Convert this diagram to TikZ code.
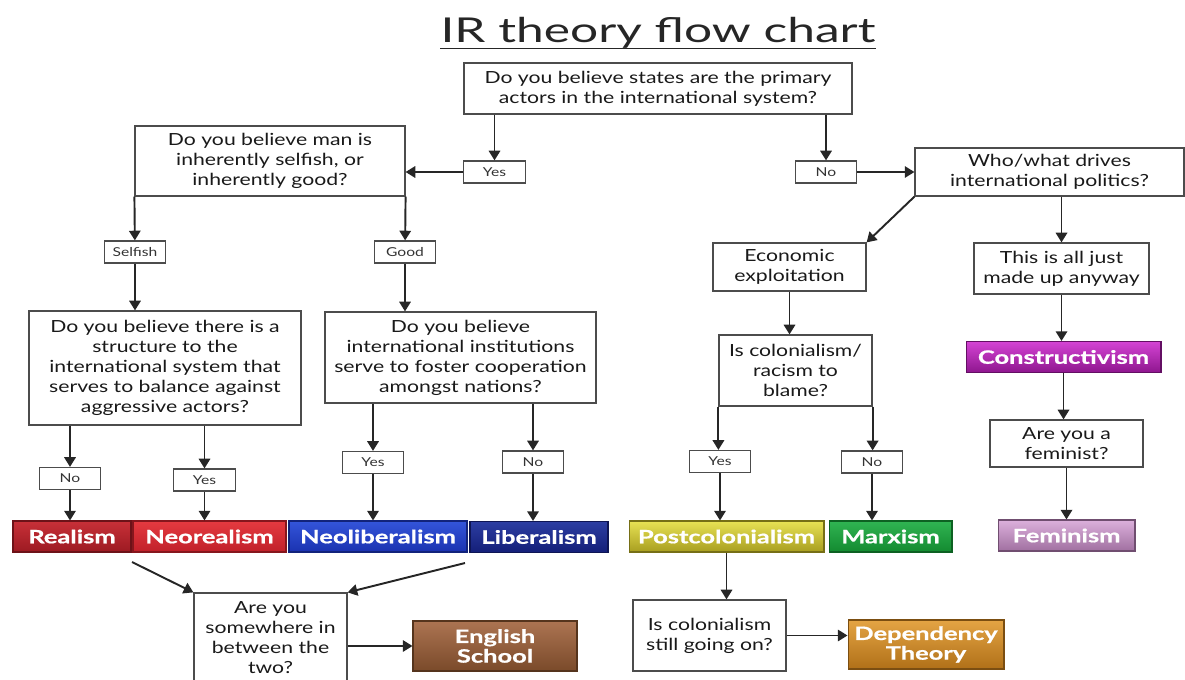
\documentclass[tikz,border=0pt]{standalone}
\usepackage{fontspec}
\setmainfont{Lato}[FakeStretch=1.27]
\newfontfamily\titlefont{Lato}[FakeStretch=1.45]
\newfontfamily\heavyfont{Lato}[FakeStretch=1.38, FakeBold=0.8]
\usetikzlibrary{arrows.meta}

\definecolor{real1}{HTML}{C83038}
\definecolor{real2}{HTML}{9C1A22}
\definecolor{neor1}{HTML}{E53A40}
\definecolor{neor2}{HTML}{C0202A}
\definecolor{neol1}{HTML}{3455DA}
\definecolor{neol2}{HTML}{1A32B0}
\definecolor{libe1}{HTML}{2C3DA2}
\definecolor{libe2}{HTML}{141E78}
\definecolor{post1}{HTML}{E8E254}
\definecolor{post2}{HTML}{A89E20}
\definecolor{marx1}{HTML}{30B452}
\definecolor{marx2}{HTML}{138A30}
\definecolor{cons1}{HTML}{D444D4}
\definecolor{cons2}{HTML}{8E168E}
\definecolor{femi1}{HTML}{DCB0DC}
\definecolor{femi2}{HTML}{A070A0}
\definecolor{engl1}{HTML}{AC7452}
\definecolor{engl2}{HTML}{7A4A2A}
\definecolor{depe1}{HTML}{E4A444}
\definecolor{depe2}{HTML}{B07018}

\begin{document}
\begin{tikzpicture}[x=0.02cm, y=-0.02cm,
  every node/.style={inner sep=0pt},
  quest/.style={draw=black!70, line width=0.7pt, align=center, text=black!90,
    font=\fontsize{9.5}{11.4}\selectfont},
  reply/.style={draw=black!70, line width=0.7pt, minimum width=1.23cm,
    minimum height=0.44cm, text=black!80, font=\fontsize{7}{8}\selectfont},
  theory/.style 2 args={draw=#2!70!black, line width=0.6pt, top color=#1,
    bottom color=#2, text=white, align=center, minimum height=0.62cm,
    font=\heavyfont\bfseries\fontsize{10.5}{11.2}\selectfont},
  flow/.style={-{Triangle[length=5.5pt,width=6.5pt]}, line width=1.1pt, black!85}]
\useasboundingbox (0,0) rectangle (1185,679);

\node[anchor=base, font=\titlefont\fontsize{19.5}{24}\selectfont, text=black!85] (title) at (658,43) {IR theory flow chart};
\draw[line width=0.8pt, black!85]
     ([yshift=-3pt]title.base west)
  -- ([yshift=-3pt]title.base east);

\node[quest, minimum width=7.76cm, minimum height=1.02cm] (q1) at (658,88.5)
  {Do you believe states are the primary\\actors in the international system?};
\node[reply] (yesA) at (494.5,172) {Yes};
\node[reply] (noA) at (826,172) {No};
\node[quest, minimum width=5.4cm, minimum height=1.4cm] (q2) at (270,161)
  {Do you believe man is\\inherently selfish, or\\inherently good?};
\node[quest, minimum width=5.38cm, minimum height=0.96cm] (q3) at (1049.5,172)
  {Who/what drives\\international politics?};
\node[reply] (selfish) at (135,252) {Selfish};
\node[reply] (good) at (405,252) {Good};
\node[quest, minimum width=5.44cm, minimum height=2.28cm] (q4) at (165,368)
  {Do you believe there is a\\structure to the\\international system that\\serves to balance against\\aggressive actors?};
\node[quest, minimum width=5.42cm, minimum height=1.82cm] (q5) at (460.5,357.5)
  {Do you believe\\international institutions\\serve to foster cooperation\\amongst nations?};
\node[quest, minimum width=3.06cm, minimum height=0.96cm] (econ) at (789.5,267)
  {Economic\\exploitation};
\node[quest, minimum width=3.5cm, minimum height=1.02cm] (madeup) at (1061.5,268.5)
  {This is all just\\made up anyway};
\node[quest, minimum width=3.06cm, minimum height=1.42cm] (q6) at (795.5,370.5)
  {Is colonialism/\\racism to\\blame?};
\node[theory={cons1}{cons2}, minimum width=3.9cm] (constr) at (1063.5,357) {Constructivism};
\node[quest, minimum width=3.06cm, minimum height=0.94cm] (feminist) at (1066.5,443.5)
  {Are you a\\feminist?};

\node[reply] (noB) at (70,478.5) {No};
\node[reply] (yesB) at (204.5,480) {Yes};
\node[reply] (yesC) at (373,462.5) {Yes};
\node[reply] (noC) at (533,462) {No};
\node[reply] (yesD) at (720,461.5) {Yes};
\node[reply] (noD) at (872,462) {No};

\node[theory={real1}{real2}, minimum width=2.36cm] (realism) at (72,536.5) {Realism};
\node[theory={neor1}{neor2}, minimum width=3.06cm] (neoreal) at (209.5,536.5) {Neorealism};
\node[theory={neol1}{neol2}, minimum width=3.56cm] (neolib) at (378,536.5) {Neoliberalism};
\node[theory={libe1}{libe2}, minimum width=2.76cm] (liberal) at (539,537) {Liberalism};
\node[theory={post1}{post2}, minimum width=3.9cm] (postcol) at (726.5,536.5) {Postcolonialism};
\node[theory={marx1}{marx2}, minimum width=2.46cm] (marx) at (890.5,536.5) {Marxism};
\node[theory={femi1}{femi2}, minimum width=2.74cm] (feminism) at (1066.5,535.5) {Feminism};

\node[quest, minimum width=3.06cm, minimum height=1.78cm] (between) at (270.5,637.5)
  {Are you\\somewhere in\\between the\\two?};
\node[theory={engl1}{engl2}, minimum width=3.28cm, minimum height=1cm] (english) at (495,646)
  {English\\School};
\node[quest, minimum width=3.06cm, minimum height=1.42cm] (still) at (709.5,635.5)
  {Is colonialism\\still going on?};
\node[theory={depe1}{depe2}, minimum width=3.12cm, minimum height=0.98cm] (depend) at (926,644.5)
  {Dependency\\Theory};

\coordinate (lft) at (132,562);
\coordinate (rgt) at (465,563);

\draw[flow] (yesA |- q1.south) -- (yesA);
\draw[flow] (noA |- q1.south) -- (noA);
\draw[flow] (yesA) -- (yesA -| q2.east);
\draw[flow] (noA) -- (noA -| q3.west);
\draw[flow] (q2.south west) -- (selfish);
\draw[flow] (q2.south east) -- (good);
\draw[flow] (selfish) -- (selfish |- q4.north);
\draw[flow] (good) -- (good |- q5.north);
\draw[flow] (noB |- q4.south) -- (noB);
\draw[flow] (yesB |- q4.south) -- (yesB);
\draw[flow] (yesC |- q5.south) -- (yesC);
\draw[flow] (noC |- q5.south) -- (noC);
\draw[flow] (noB) -- (noB |- realism.north);
\draw[flow] (yesB) -- (yesB |- neoreal.north);
\draw[flow] (yesC) -- (yesC |- neolib.north);
\draw[flow] (noC) -- (noC |- liberal.north);
\draw[flow] (lft) -- (between.north west);
\draw[flow] (rgt) -- (between.north east);
\draw[flow] (english -| between.east) -- (english);

\draw[flow] (q3.south west) -- (econ.north east);
\draw[flow] (madeup |- q3.south) -- (madeup);
\draw[flow] (econ) -- (econ |- q6.north);
\draw[flow] (q6.south west) -- (q6.south west |- yesD.north);
\draw[flow] (q6.south east) -- (q6.south east |- noD.north);
\draw[flow] (yesD) -- (yesD |- postcol.north);
\draw[flow] (noD) -- (noD |- marx.north);
\draw[flow] (postcol) -- (postcol |- still.north);
\draw[flow] (still.east) -- (still.east -| depend.west);
\draw[flow] (madeup) -- (madeup |- constr.north);
\draw[flow] (constr) -- (constr |- feminist.north);
\draw[flow] (feminist) -- (feminist |- feminism.north);
\end{tikzpicture}
\end{document}
